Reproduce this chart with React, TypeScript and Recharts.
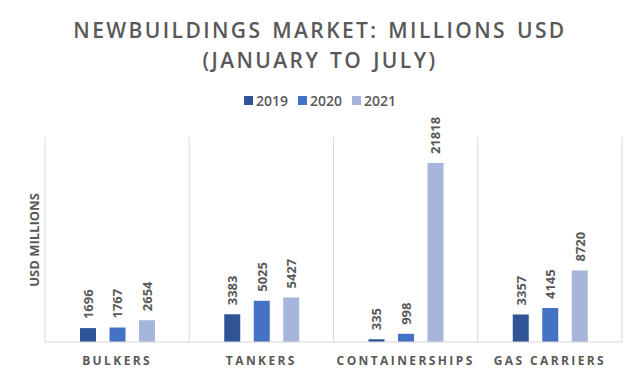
import React from 'react';
import { BarChart, Bar, XAxis, YAxis, CartesianGrid, LabelList, Legend } from 'recharts';

const categories = ['BULKERS', 'TANKERS', 'CONTAINERSHIPS', 'GAS CARRIERS'];
const values2019 = [1696, 3383, 335, 3357];
const values2020 = [1767, 5025, 998, 4145];
const values2021 = [2654, 5427, 21818, 8720];
const seriesNames = ['2019', '2020', '2021'];
const seriesColors = ['#2F5597', '#4472C4', '#A5B5DC'];

const data = categories.map((c, i) => ({
  name: c,
  '2019': values2019[i],
  '2020': values2020[i],
  '2021': values2021[i],
}));

const FONT = '"Open Sans", sans-serif';
const TEXT = '#595959';

const ValueLabel = (props: any) => {
  const { x, y, width, value } = props;
  const cx = Number(x) + Number(width) / 2;
  const ty = Number(y) - 9;
  return (
    <text
      x={cx}
      y={ty}
      transform={`rotate(-90 ${cx} ${ty})`}
      textAnchor="start"
      dominantBaseline="central"
      fill={TEXT}
      fontFamily={FONT}
      fontSize={13}
      fontWeight={700}
    >
      {value}
    </text>
  );
};

const CategoryTick = (props: any) => {
  const { x, y, payload } = props;
  return (
    <text
      x={x}
      y={Number(y) + 10}
      textAnchor="middle"
      dominantBaseline="central"
      fill={TEXT}
      fontFamily={FONT}
      fontSize={12}
      fontWeight={700}
      letterSpacing={2.4}
    >
      {payload.value}
    </text>
  );
};

const LegendContent = () => (
  <div style={{ display: 'flex', justifyContent: 'center', alignItems: 'center', fontFamily: FONT, fontSize: 14, fontWeight: 600, color: TEXT }}>
    {seriesNames.map((n, i) => (
      <div key={n} style={{ display: 'flex', alignItems: 'center', margin: '0 5px' }}>
        <span style={{ display: 'inline-block', width: 9, height: 9, background: seriesColors[i], marginRight: 3 }} />
        <span>{n}</span>
      </div>
    ))}
  </div>
);

export default function App() {
  return (
    <div style={{ position: 'absolute', left: 0, top: 0, width: 640, height: 380, background: '#fff' }}>
      <div
        style={{
          position: 'absolute',
          left: 0,
          top: 15,
          width: 640,
          textAlign: 'center',
          fontFamily: FONT,
          fontSize: 21,
          fontWeight: 600,
          letterSpacing: 2.4,
          wordSpacing: 2,
          color: TEXT,
          lineHeight: '30px',
        }}
      >
        <div>NEWBUILDINGS MARKET: MILLIONS USD</div>
        <div>(JANUARY TO JULY)</div>
      </div>
      <div
        style={{
          position: 'absolute',
          left: 34,
          top: 240,
          transform: 'translate(-50%, -50%) rotate(-90deg)',
          fontFamily: FONT,
          fontSize: 13,
          fontWeight: 700,
          color: TEXT,
          whiteSpace: 'nowrap',
        }}
      >
        USD MILLIONS
      </div>
      <BarChart
        width={640}
        height={380}
        data={data}
        margin={{ top: 137, right: 18, left: 45, bottom: 8 }}
        barSize={16}
        barGap={13.5}
      >
        <CartesianGrid
          horizontal={false}
          stroke="#D9D9D9"
          verticalCoordinatesGenerator={({ offset }: any) =>
            categories.map((_, i) => offset.left + (i * offset.width) / categories.length).concat([offset.left + offset.width])
          }
        />
        <XAxis
          dataKey="name"
          height={30}
          axisLine={{ stroke: '#D9D9D9' }}
          tickLine={false}
          tick={<CategoryTick />}
          interval={0}
        />
        <YAxis hide domain={[0, 25000]} />
        <Legend
          verticalAlign="middle"
          layout="horizontal"
          content={<LegendContent />}
          wrapperStyle={{ top: 91, left: 0, width: 640 }}
        />
        {seriesNames.map((n, i) => (
          <Bar key={n} dataKey={n} fill={seriesColors[i]} isAnimationActive={false}>
            <LabelList dataKey={n} content={<ValueLabel />} />
          </Bar>
        ))}
      </BarChart>
    </div>
  );
}
